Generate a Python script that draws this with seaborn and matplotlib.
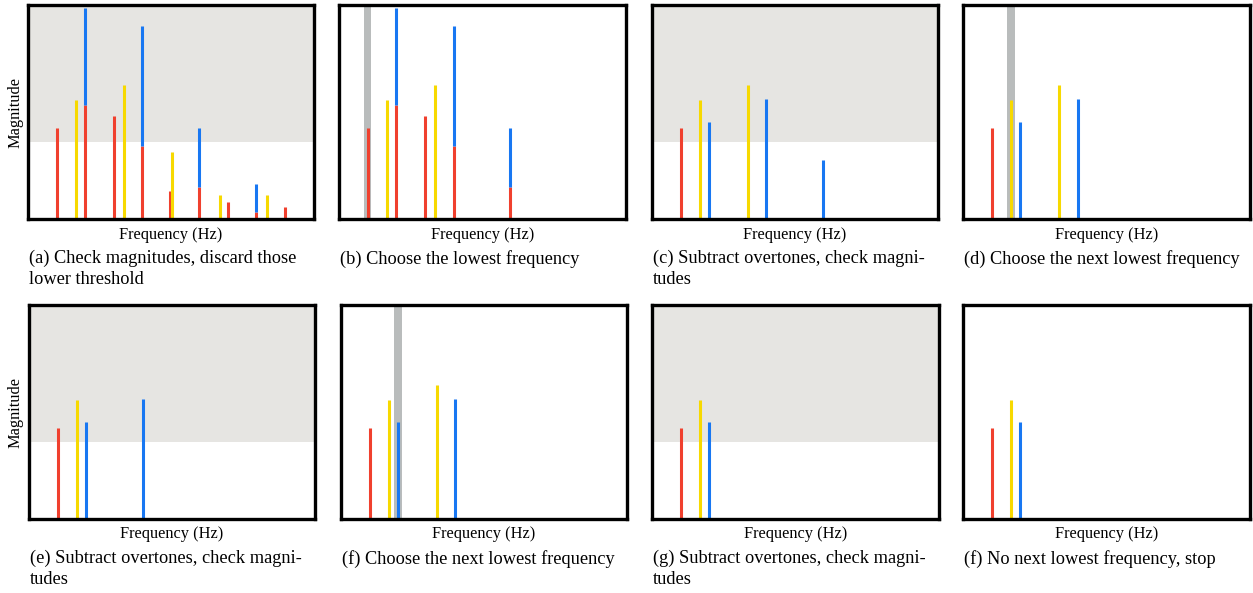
import matplotlib
matplotlib.use("Agg")
import matplotlib.pyplot as plt
import seaborn as sns

# Harmonic spectrum of three notes (frequency in units of the lowest note)
red_freq = [1.0, 2.0, 3.0, 4.0, 4.97, 5.97, 6.98, 7.97, 8.98]
red_mag = [42.7, 53.4, 48.0, 34.3, 13.1, 14.8, 8.1, 3.1, 5.5]
yellow_freq = [1.68, 3.36, 5.05, 6.71, 8.37]
yellow_mag = [55.6, 62.5, 31.2, 11.4, 11.4]
blue_freq = [2.0, 4.0, 5.97, 7.97]
blue_mag = [45.2, 55.9, 27.6, 13.1]
threshold = 36.0

# Partials kept at each step (indices into the arrays above)
keep_red = [[0, 1, 2, 3, 4, 5, 6, 7, 8], [0, 1, 2, 3, 5], [0], [0], [0], [0], [0], [0]]
keep_yellow = [[0, 1, 2, 3, 4], [0, 1], [0, 1], [0, 1], [0], [0, 1], [0], [0]]
keep_blue = [[0, 1, 2, 3], [0, 1, 2], [0, 1, 2], [0, 1], [0, 1], [0, 1], [0], [0]]
shaded = [True, False, True, False, True, False, True, False]
selected = [None, 1.0, None, 1.68, None, 2.0, None, None]

captions = [
    "(a) Check magnitudes, discard those\nlower threshold",
    "(b) Choose the lowest frequency",
    "(c) Subtract overtones, check magni-\ntudes",
    "(d) Choose the next lowest frequency",
    "(e) Subtract overtones, check magni-\ntudes",
    "(f) Choose the next lowest frequency",
    "(g) Subtract overtones, check magni-\ntudes",
    "(f) No next lowest frequency, stop",
]

RED, YELLOW, BLUE = "#F0402E", "#F7D900", "#1877F2"
SHADE, PICK = "#E6E5E2", "#B9BCBC"

sns.set_theme(style="white")
plt.rcParams["font.family"] = ["Liberation Serif", "DejaVu Serif"]
plt.rcParams["text.color"] = "black"

W, H = 1253, 593
fig = plt.figure(figsize=(W / 100, H / 100), dpi=100)

# axes boxes in pixels: (left, right, top, bottom)
cols_top = [(28, 314), (339, 626), (652, 938), (963, 1250)]
cols_bot = [(29, 315), (341, 627), (652, 939), (963, 1250)]
rows = [(5, 219), (305, 519)]

XMAX, YMAX = 10.0, 100.0
LW = 2.2

for i in range(8):
    r, c = divmod(i, 4)
    x0, x1 = (cols_top if r == 0 else cols_bot)[c]
    t, b = rows[r]
    ax = fig.add_axes([x0 / W, 1 - b / H, (x1 - x0) / W, (b - t) / H])
    ax.set_xlim(0, XMAX)
    ax.set_ylim(0, YMAX)
    ax.set_xticks([])
    ax.set_yticks([])
    for s in ax.spines.values():
        s.set_visible(True)
        s.set_color("black")
        s.set_linewidth(2.4)
        s.set_zorder(10)

    if shaded[i]:
        ax.axhspan(threshold, YMAX, color=SHADE, lw=0, zorder=0)
    if selected[i] is not None:
        ax.axvspan(selected[i] - 0.13, selected[i] + 0.13, color=PICK, lw=0, zorder=1)

    red_top = {}
    for k in keep_red[i]:
        red_top[red_freq[k]] = red_mag[k]
        ax.vlines(red_freq[k], 0, red_mag[k], color=RED, lw=LW, zorder=3)
    for k in keep_yellow[i]:
        ax.vlines(yellow_freq[k], 0, yellow_mag[k], color=YELLOW, lw=LW, zorder=3)
    for k in keep_blue[i]:
        base = red_top.get(blue_freq[k], 0.0)
        ax.vlines(blue_freq[k], base, base + blue_mag[k], color=BLUE, lw=LW, zorder=3)

    # axis label and caption
    xc = (x0 + x1) / 2
    fig.text(xc / W, 1 - (b + 15.5) / H, "Frequency (Hz)", ha="center", va="center",
             fontsize=11.8, color="black")
    fig.text((x0 + 1) / W, 1 - (b + 31) / H, captions[i], ha="left", va="top",
             fontsize=13.2, linespacing=1.32, color="black")
    if c == 0:
        fig.text(16 / W, 1 - ((t + b) / 2) / H, "Magnitude", rotation=90,
                 ha="center", va="center", fontsize=11.8, color="black")

fig.savefig("out.png", dpi=100)
